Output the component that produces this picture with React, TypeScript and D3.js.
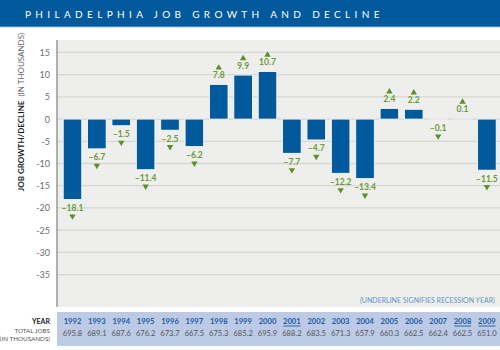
import { useMemo } from "react";
import { scaleBand, scaleLinear } from "d3";

const WIDTH = 500;
const HEIGHT = 350;

const years = ["1992", "1993", "1994", "1995", "1996", "1997", "1998", "1999", "2000", "2001", "2002", "2003", "2004", "2005", "2006", "2007", "2008", "2009"];
const jobChange = [-18.1, -6.7, -1.5, -11.4, -2.5, -6.2, 7.8, 9.9, 10.7, -7.7, -4.7, -12.2, -13.4, 2.4, 2.2, -0.1, 0.1, -11.5];
const totalJobs = ["695.8", "689.1", "687.6", "676.2", "673.7", "667.5", "675.3", "685.2", "695.9", "688.2", "683.5", "671.3", "657.9", "660.3", "662.5", "662.4", "662.5", "651.0"];
const recessionYears = ["2001", "2008", "2009"];
const yTicks = [15, 10, 5, 0, -5, -10, -15, -20, -25, -30, -35];

const BLUE = "#025a9c";
const GREEN = "#699a35";
const FONT = "Lato, 'Open Sans', sans-serif";

const fmt = (v: number) => (v < 0 ? "\u2013" + Math.abs(v).toFixed(1) : v.toFixed(1));

export default function App() {
  const plot = { left: 57, right: 500, top: 40, bottom: 307 };
  const x = useMemo(
    () => scaleBand<string>().domain(years).range([60.3, 499.1]).paddingInner(0.24).paddingOuter(0.12),
    []
  );
  const y = useMemo(() => scaleLinear().domain([-42.3, 17.8]).range([plot.bottom, plot.top]), []);

  const tri = (cx: number, cy: number, up: boolean) =>
    up
      ? `M${cx - 3.2},${cy + 2.6}L${cx + 3.2},${cy + 2.6}L${cx},${cy - 2.8}Z`
      : `M${cx - 3.2},${cy - 2.6}L${cx + 3.2},${cy - 2.6}L${cx},${cy + 2.8}Z`;

  return (
    <svg
      width={WIDTH}
      height={HEIGHT}
      style={{ position: "fixed", left: 0, top: 0, background: "#fff" }}
      fontFamily={FONT}
    >
      {/* header */}
      <rect x={0} y={0} width={WIDTH} height={27} fill={BLUE} />
      <rect x={0} y={26} width={WIDTH} height={1.2} fill="#4a86bb" />
      <text x={25} y={14} dominantBaseline="central" fill="#fff" fontSize={10} letterSpacing={4.35}>
        PHILADELPHIA JOB GROWTH AND DECLINE
      </text>

      {/* plot background + grid */}
      <rect x={plot.left} y={plot.top} width={plot.right - plot.left} height={plot.bottom - plot.top} fill="#eeefec" />
      {yTicks.map((t) => (
        <g key={t}>
          <line x1={plot.left} x2={plot.right} y1={y(t)} y2={y(t)} stroke="#d6d7d3" strokeWidth={1.3} />
          <text x={50} y={y(t)} textAnchor="end" dominantBaseline="central" fontSize={9} fill="#6d6d6d">
            {t < 0 ? "-" + Math.abs(t) : t}
          </text>
        </g>
      ))}
      <line x1={plot.left} x2={plot.left} y1={plot.top} y2={plot.bottom} stroke="#8a8a8a" strokeWidth={1.3} />

      {/* y axis title */}
      <text
        transform={`translate(21,112) rotate(-90)`}
        textAnchor="middle"
        dominantBaseline="central"
        fontSize={8}
      >
        <tspan fontWeight="bold" fill="#1a1a1a">JOB GROWTH/DECLINE</tspan>
        <tspan fill="#666" dx={4}>(IN THOUSANDS)</tspan>
      </text>

      {/* bars */}
      {years.map((yr, i) => {
        const v = jobChange[i];
        const bx = x(yr) ?? 0;
        const bw = x.bandwidth();
        const top = y(Math.max(0, v));
        const bottom = y(Math.min(0, v));
        const cx = bx + bw / 2;
        const up = v > 0;
        const textY = up ? top - 9.5 : bottom + 8.5;
        const triY = up ? top - 17.5 : bottom + 17.5;
        return (
          <g key={yr}>
            <rect x={bx} y={top} width={bw} height={Math.max(0.5, bottom - top)} fill={BLUE} stroke="#fff" strokeWidth={0.8} />
            <text x={cx} y={textY} textAnchor="middle" dominantBaseline="central" fontSize={8.5} fontWeight="bold" fill={GREEN}>
              {fmt(v)}
            </text>
            <path d={tri(cx, triY, up)} fill="#5b8f2a" />
          </g>
        );
      })}

      <text x={495} y={300} textAnchor="end" dominantBaseline="central" fontSize={7} fill="#5e92c9">
        (UNDERLINE SIGNIFIES RECESSION YEAR)
      </text>

      {/* table */}
      <rect x={plot.left} y={312} width={plot.right - plot.left} height={34} fill="#bccae6" />
      <text x={50} y={321} textAnchor="end" dominantBaseline="central" fontSize={7} fontWeight="bold" fill="#1a1a1a">
        YEAR
      </text>
      <text x={50} y={330} textAnchor="end" dominantBaseline="central" fontSize={6.3} fill="#555">
        TOTAL JOBS
      </text>
      <text x={50} y={338} textAnchor="end" dominantBaseline="central" fontSize={6.3} fill="#555">
        (IN THOUSANDS)
      </text>
      {years.map((yr, i) => {
        const cx = (x(yr) ?? 0) + x.bandwidth() / 2;
        const rec = recessionYears.includes(yr);
        return (
          <g key={"t" + yr}>
            <text x={cx} y={321} textAnchor="middle" dominantBaseline="central" fontSize={7.6} fontWeight="bold" fill="#1b5aa3">
              {yr}
            </text>
            {rec && <line x1={cx - 8.5} x2={cx + 8.5} y1={326} y2={326} stroke="#1b5aa3" strokeWidth={0.9} />}
            <text x={cx} y={333} textAnchor="middle" dominantBaseline="central" fontSize={7.6} fill="#555">
              {totalJobs[i]}
            </text>
          </g>
        );
      })}
    </svg>
  );
}
